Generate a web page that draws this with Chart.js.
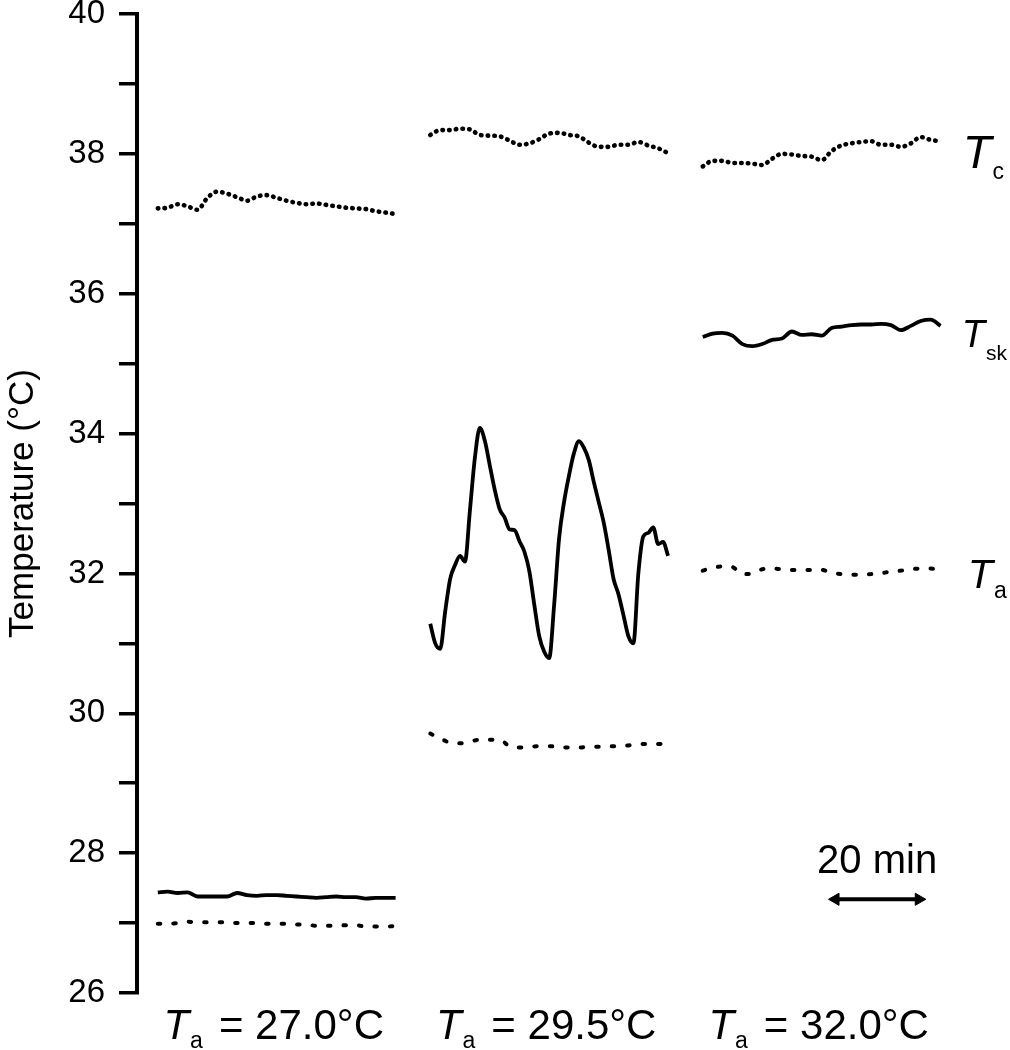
<!DOCTYPE html>
<html>
<head>
<meta charset="utf-8">
<script src="https://cdn.jsdelivr.net/npm/chart.js@4.4.1/dist/chart.umd.min.js"></script>
<style>
  body { margin: 0; background: #fff; }
  canvas { display: block; }
</style>
</head>
<body>
<canvas id="tempChart" width="1010" height="1050"></canvas>
<script>
// sample times inside each recording block (min)
const minutes = [0, 2, 4, 6, 8, 10, 12, 14, 16, 18, 20, 22, 24, 26, 28, 30, 32, 34, 36, 38, 40, 42, 44, 46, 48];
const fineMinutes = [0, 1, 2, 3, 4, 5, 6, 7, 8, 9, 10, 11, 12, 13, 14, 15, 16, 17, 18, 19, 20, 21, 22, 23, 24,
  25, 26, 27, 28, 29, 30, 31, 32, 33, 34, 35, 36, 37, 38, 39, 40, 41, 42, 43, 44, 45, 46, 47, 48];
const blockStart = [0, 55, 110];
const ambientLabels = ['27.0', '29.5', '32.0'];
const yLabelTicks = [26, 28, 30, 32, 34, 36, 38, 40];

// core temperature Tc
const tcLow = [37.22, 37.23, 37.28, 37.25, 37.20, 37.37, 37.46, 37.43, 37.38, 37.33, 37.39, 37.41, 37.37,
  37.33, 37.30, 37.28, 37.29, 37.27, 37.25, 37.23, 37.22, 37.21, 37.18, 37.16, 37.14];
const tcMid = [38.27, 38.34, 38.34, 38.36, 38.35, 38.27, 38.26, 38.25, 38.19, 38.13, 38.15, 38.21, 38.29,
  38.30, 38.27, 38.25, 38.16, 38.10, 38.10, 38.13, 38.13, 38.17, 38.12, 38.08, 38.01];
const tcHigh = [37.82, 37.90, 37.90, 37.87, 37.87, 37.86, 37.84, 37.93, 38.00, 37.99, 37.97, 37.96, 37.91,
  38.04, 38.12, 38.15, 38.17, 38.18, 38.13, 38.13, 38.10, 38.15, 38.24, 38.20, 38.18];

// skin temperature Tsk
const tskLow = [27.44, 27.45, 27.43, 27.44, 27.38, 27.38, 27.38, 27.38, 27.43, 27.40, 27.39, 27.40, 27.40,
  27.39, 27.38, 27.37, 27.36, 27.37, 27.38, 27.37, 27.37, 27.35, 27.36, 27.36, 27.36];
const tskMid = [31.28, 31.00, 30.92, 31.45, 31.92, 32.12, 32.25, 32.17, 32.90, 33.65, 34.08, 33.90, 33.55,
  33.20, 32.92, 32.80, 32.63, 32.62, 32.46, 32.31, 32.03, 31.55, 31.10, 30.88, 30.79, 31.55, 32.50, 33.02,
  33.40, 33.72, 33.89, 33.80, 33.62, 33.31, 33.02, 32.73, 32.34, 31.92, 31.70, 31.40, 31.10, 31.00, 32.00,
  32.53, 32.58, 32.66, 32.42, 32.45, 32.25];
const tskHigh = [35.38, 35.43, 35.44, 35.40, 35.28, 35.25, 35.28, 35.34, 35.36, 35.46, 35.41, 35.42, 35.40,
  35.51, 35.53, 35.55, 35.56, 35.56, 35.57, 35.55, 35.48, 35.54, 35.61, 35.63, 35.54];

// ambient temperature Ta
const taLow = [26.99, 26.99, 27.00, 27.02, 27.01, 27.01, 27.01, 27.01, 27.00, 27.00, 27.00, 26.99, 26.99,
  26.99, 26.98, 26.98, 26.96, 26.96, 26.96, 26.97, 26.97, 26.95, 26.95, 26.95, 26.96];
const taMid = [29.71, 29.64, 29.58, 29.57, 29.60, 29.62, 29.62, 29.62, 29.53, 29.51, 29.52, 29.53, 29.53,
  29.52, 29.51, 29.51, 29.52, 29.52, 29.53, 29.53, 29.54, 29.56, 29.56, 29.56, 29.57];
const taHigh = [32.04, 32.08, 32.10, 32.09, 31.99, 32.00, 32.06, 32.07, 32.06, 32.05, 32.05, 32.05, 32.05,
  32.01, 31.99, 31.98, 31.98, 31.99, 32.00, 32.03, 32.04, 32.06, 32.07, 32.07, 32.05];

// 20 min scale bar (arrow tips sit just outside these points)
const scaleBarMinutes = [136.8, 153.6];
const scaleBarTemp = 27.34;

function toPoints(times, values, start) {
  return values.map((v, i) => ({ x: start + times[i], y: v }));
}

const dotted = { borderColor: '#000', borderWidth: 4.6, borderDash: [0.5, 6.2], borderCapStyle: 'round',
  pointRadius: 0, cubicInterpolationMode: 'monotone' };
const sparse = { borderColor: '#000', borderWidth: 4, borderDash: [2.5, 13], borderCapStyle: 'round',
  pointRadius: 0, cubicInterpolationMode: 'monotone' };
const solid = { borderColor: '#000', borderWidth: 3.8, pointRadius: 0, borderJoinStyle: 'round',
  cubicInterpolationMode: 'monotone' };

const datasets = [
  { label: 'Tc 27.0', data: toPoints(minutes, tcLow, blockStart[0]), ...dotted },
  { label: 'Tc 29.5', data: toPoints(minutes, tcMid, blockStart[1]), ...dotted },
  { label: 'Tc 32.0', data: toPoints(minutes, tcHigh, blockStart[2]), ...dotted },
  { label: 'Tsk 27.0', data: toPoints(minutes, tskLow, blockStart[0]), ...solid },
  { label: 'Tsk 29.5', data: toPoints(fineMinutes, tskMid, blockStart[1]), ...solid },
  { label: 'Tsk 32.0', data: toPoints(minutes, tskHigh, blockStart[2]), ...solid },
  { label: 'Ta 27.0', data: toPoints(minutes, taLow, blockStart[0]), ...sparse },
  { label: 'Ta 29.5', data: toPoints(minutes, taMid, blockStart[1]), ...sparse },
  { label: 'Ta 32.0', data: toPoints(minutes, taHigh, blockStart[2]), ...sparse },
  {
    label: '20 min',
    data: scaleBarMinutes.map(m => ({ x: m, y: scaleBarTemp })),
    borderColor: '#000', backgroundColor: '#000', borderWidth: 4,
    pointStyle: 'triangle', pointRadius: 7, pointRotation: [-90, 90], pointBorderWidth: 1
  }
];

const FONT = '"Liberation Sans", Arial, sans-serif';

// T with subscript, as drawn in the figure
function drawT(ctx, x, baseline, size, sub, subSize, drop) {
  ctx.font = 'italic ' + size + 'px ' + FONT;
  ctx.fillText('T', x, baseline);
  const w = ctx.measureText('T').width;
  ctx.font = subSize + 'px ' + FONT;
  ctx.fillText(sub, x + w + 1, baseline + drop);
  return x + w + 1 + ctx.measureText(sub).width;
}

const textLabels = {
  id: 'textLabels',
  afterDraw(chart) {
    const { ctx, scales: { x, y } } = chart;
    ctx.save();
    ctx.fillStyle = '#000';
    ctx.textBaseline = 'alphabetic';
    ctx.textAlign = 'left';

    // series names at the right
    const right = x.getPixelForValue(162.5);
    drawT(ctx, right, y.getPixelForValue(38.06) + 18, 47, 'c', 23, 11);
    drawT(ctx, right - 1, y.getPixelForValue(35.42) + 13, 38, 'sk', 21, 13);
    drawT(ctx, right + 5, y.getPixelForValue(32.0) + 15, 41, 'a', 23, 10);

    // ambient condition under each block, centred on the block
    ambientLabels.forEach((lab, i) => {
      ctx.font = 'italic 42px ' + FONT;
      const wT = ctx.measureText('T').width;
      ctx.font = '23px ' + FONT;
      const wA = ctx.measureText('a').width;
      ctx.font = '42px ' + FONT;
      const rest = '= ' + lab + '°C';
      const wR = ctx.measureText(rest).width;
      const total = wT + 1 + wA + 16 + wR;
      const x0 = x.getPixelForValue(blockStart[i] + 24) - total / 2 - 3;
      drawT(ctx, x0, 1039, 42, 'a', 23, 9);
      ctx.font = '42px ' + FONT;
      ctx.fillText(rest, x0 + wT + 1 + wA + 16, 1039);
    });

    // scale bar text
    ctx.font = '40px ' + FONT;
    ctx.textAlign = 'center';
    ctx.fillText('20 min', x.getPixelForValue((scaleBarMinutes[0] + scaleBarMinutes[1]) / 2), 873);
    ctx.restore();
  }
};

new Chart(document.getElementById('tempChart'), {
  type: 'line',
  data: { datasets: datasets },
  options: {
    responsive: false,
    animation: false,
    layout: { padding: { top: 14, bottom: 57, left: 0, right: 10 } },
    plugins: { legend: { display: false }, tooltip: { enabled: false } },
    scales: {
      x: { type: 'linear', display: false, min: -4.2, max: 170 },
      y: {
        min: 26, max: 40,
        afterFit(scale) {
          scale.width = 137;
          scale.paddingTop = 0;
          scale.paddingBottom = 0;
        },
        border: { display: true, color: '#000', width: 4 },
        grid: { drawOnChartArea: false, color: '#000', tickColor: '#000', tickLength: 18, lineWidth: 3.5, tickWidth: 3.5 },
        ticks: {
          stepSize: 1, color: '#000', padding: 14,
          font: { family: FONT, size: 33 },
          callback: v => yLabelTicks.includes(v) ? v : ''
        },
        title: {
          display: true, text: 'Temperature (°C)', color: '#000',
          font: { family: FONT, size: 35 }, padding: { top: 2, bottom: 0 }
        }
      }
    }
  },
  plugins: [textLabels]
});
</script>
</body>
</html>
